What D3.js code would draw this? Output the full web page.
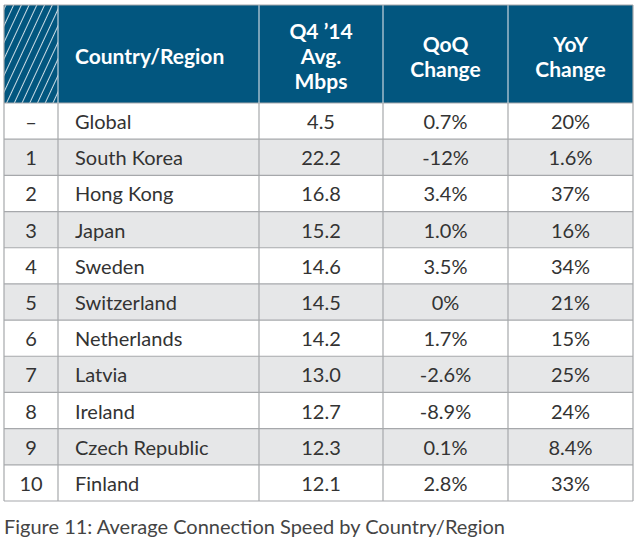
<!DOCTYPE html>
<html><head><meta charset="utf-8">
<script src="https://cdn.jsdelivr.net/npm/d3@7"></script>
<style>body{margin:0;background:#fff;} svg{display:block;}</style>
</head><body>
<script>
const ranks = ["–","1","2","3","4","5","6","7","8","9","10"];
const countries = ["Global","South Korea","Hong Kong","Japan","Sweden","Switzerland","Netherlands","Latvia","Ireland","Czech Republic","Finland"];
const avgMbps = ["4.5","22.2","16.8","15.2","14.6","14.5","14.2","13.0","12.7","12.3","12.1"];
const qoqChange = ["0.7%","-12%","3.4%","1.0%","3.5%","0%","1.7%","-2.6%","-8.9%","0.1%","2.8%"];
const yoyChange = ["20%","1.6%","37%","16%","34%","21%","15%","25%","24%","8.4%","33%"];
const headers = [[], ["Country/Region"], ["Q4 ’14","Avg.","Mbps"], ["QoQ","Change"], ["YoY","Change"]];
const caption = "Figure 11: Average Connection Speed by Country/Region";

const W = 642, H = 543;
const colEdges = [4, 58, 259, 383, 508, 633];
const tableTop = 5, headBottom = 103, tableBottom = 501;
const font = "Lato, 'Open Sans', sans-serif";
const blue = "#02567f";

const svg = d3.select("body").append("svg").attr("width", W).attr("height", H);
const defs = svg.append("defs");
const pat = defs.append("pattern").attr("id","hatch").attr("patternUnits","userSpaceOnUse")
  .attr("width",7).attr("height",7).attr("patternTransform","rotate(25)");
pat.append("rect").attr("width",7).attr("height",7).attr("fill",blue);
pat.append("line").attr("x1",0).attr("y1",0).attr("x2",0).attr("y2",7).attr("stroke","#fff").attr("stroke-width",1.6);

const y = d3.scaleBand().domain(d3.range(countries.length)).range([headBottom, tableBottom]);

const rows = svg.append("g");
rows.selectAll("rect").data(countries).join("rect")
  .attr("x", colEdges[0]).attr("width", colEdges[5]-colEdges[0])
  .attr("y", (d,i)=>y(i)).attr("height", y.bandwidth())
  .attr("fill", (d,i)=> i%2===1 ? "#e6e7e8" : "#fff");

svg.append("rect").attr("x",colEdges[0]).attr("y",tableTop).attr("width",colEdges[1]-colEdges[0]).attr("height",headBottom-tableTop).attr("fill","url(#hatch)");
svg.append("rect").attr("x",colEdges[1]).attr("y",tableTop).attr("width",colEdges[5]-colEdges[1]).attr("height",headBottom-tableTop).attr("fill",blue);

const grid = svg.append("g").attr("stroke","#a6a8ab").attr("stroke-width",1.2);
d3.range(countries.length+1).forEach(i=>{
  const yy = i===countries.length ? tableBottom : y(i);
  grid.append("line").attr("x1",colEdges[0]).attr("x2",colEdges[5]).attr("y1",yy).attr("y2",yy);
});
colEdges.forEach((x,i)=>{
  grid.append("line").attr("x1",x).attr("x2",x).attr("y1",headBottom).attr("y2",tableBottom);
  grid.append("line").attr("x1",x).attr("x2",x).attr("y1",tableTop).attr("y2",headBottom)
    .attr("stroke", (i===0||i===5) ? "#a6a8ab" : "#c9d6de");
});
grid.append("line").attr("x1",colEdges[0]).attr("x2",colEdges[5]).attr("y1",tableTop).attr("y2",tableTop);

const headMid = 57;
headers.forEach((lines,c)=>{
  if(!lines.length) return;
  const left = c===1;
  const x = left ? 75 : (colEdges[c]+colEdges[c+1])/2;
  const lh = 25;
  const t = svg.append("text").attr("fill","#fff").attr("font-family",font).attr("font-weight",700)
    .attr("font-size",21).attr("text-anchor", left?"start":"middle");
  lines.forEach((ln,k)=>{
    t.append("tspan").attr("x",x).attr("y", headMid + (k-(lines.length-1)/2)*lh).attr("dy","0.35em").text(ln);
  });
});

const cols = [ranks, countries, avgMbps, qoqChange, yoyChange];
cols.forEach((arr,c)=>{
  const left = c===1;
  svg.append("g").selectAll("text").data(arr).join("text")
    .attr("x", left ? 75 : (colEdges[c]+colEdges[c+1])/2)
    .attr("y", (d,i)=> y(i)+y.bandwidth()/2 + 1)
    .attr("dy","0.35em")
    .attr("text-anchor", left?"start":"middle")
    .attr("font-family",font).attr("font-size",20).attr("fill","#333")
    .text(d=>d);
});

svg.append("text").attr("x",4).attr("y",527).attr("dy","0.35em")
  .attr("font-family",font).attr("font-size",20).attr("fill","#444").text(caption);
</script>
</body></html>
